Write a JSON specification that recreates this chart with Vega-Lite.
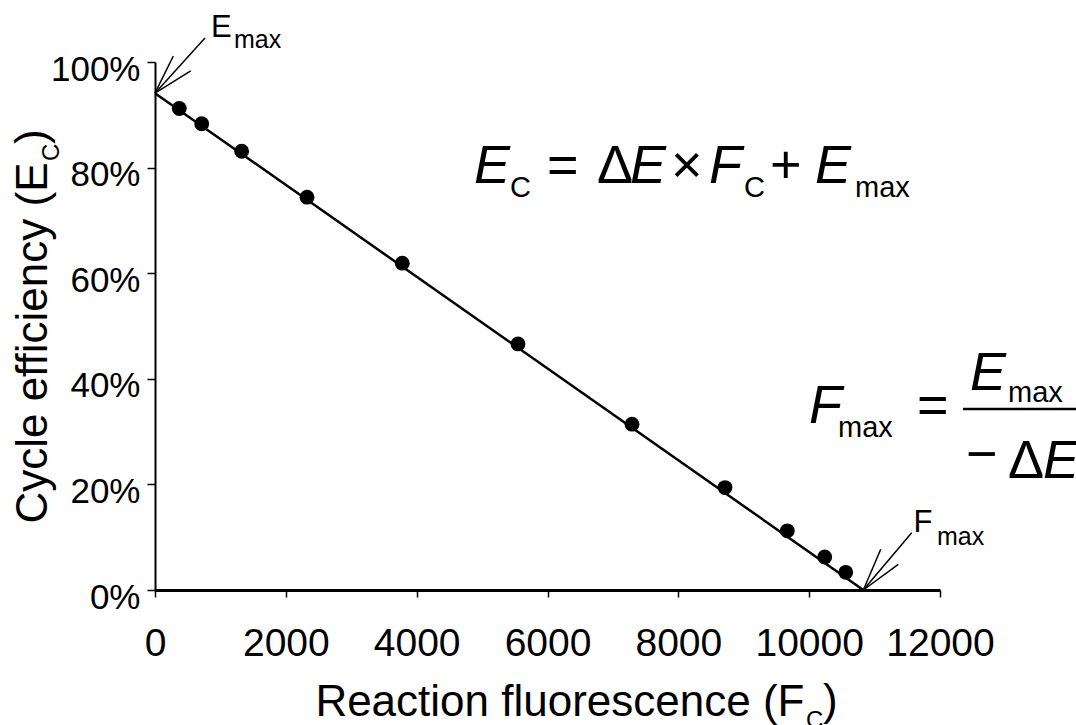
{
  "$schema": "https://vega.github.io/schema/vega-lite/v6.json",
  "width": 785,
  "height": 528,
  "autosize": "none",
  "padding": {"left": 155, "top": 62, "right": 136, "bottom": 135},
  "background": "white",
  "config": {"view": {"stroke": null}, "font": "Liberation Sans"},
  "datasets": {
    "obs": [
      {"Fc": 371, "Ec": 0.912},
      {"Fc": 714, "Ec": 0.883},
      {"Fc": 1325, "Ec": 0.831},
      {"Fc": 2324, "Ec": 0.744},
      {"Fc": 3780, "Ec": 0.619},
      {"Fc": 5549, "Ec": 0.466},
      {"Fc": 7292, "Ec": 0.314},
      {"Fc": 8713, "Ec": 0.194},
      {"Fc": 9666, "Ec": 0.112},
      {"Fc": 10238, "Ec": 0.0625},
      {"Fc": 10559, "Ec": 0.0335}
    ],
    "fit": [
      {"Fc": 0, "Ec": 0.941},
      {"Fc": 10828, "Ec": 0}
    ],
    "arrows": [
      {"Fc": 0, "Ec": 0.941, "Fc2": 764, "Ec2": 1.0455},
      {"Fc": 0, "Ec": 0.941, "Fc2": 280, "Ec2": 1.0114},
      {"Fc": 0, "Ec": 0.941, "Fc2": 546, "Ec2": 0.983},
      {"Fc": 10828, "Ec": 0, "Fc2": 11567, "Ec2": 0.1085},
      {"Fc": 10828, "Ec": 0, "Fc2": 11094, "Ec2": 0.0771},
      {"Fc": 10828, "Ec": 0, "Fc2": 11362, "Ec2": 0.0487}
    ],
    "fraction_bar": [
      {"Fc": 12352, "Ec": 0.3428, "Fc2": 14079, "Ec2": 0.3428}
    ],
    "math_italic": [
      {"Fc": 4877, "Ec": 0.7708, "label": "E"},
      {"Fc": 7261, "Ec": 0.7708, "label": "E"},
      {"Fc": 8469, "Ec": 0.7708, "label": "F"},
      {"Fc": 10089, "Ec": 0.7708, "label": "E"},
      {"Fc": 9998, "Ec": 0.3163, "label": "F"},
      {"Fc": 12459, "Ec": 0.3788, "label": "E"},
      {"Fc": 13575, "Ec": 0.2121, "label": "E"}
    ],
    "math_upright": [
      {"Fc": 5993, "Ec": 0.7708, "label": "="},
      {"Fc": 6757, "Ec": 0.7708, "label": "Δ"},
      {"Fc": 7888, "Ec": 0.7708, "label": "×"},
      {"Fc": 9402, "Ec": 0.7708, "label": "+"},
      {"Fc": 11649, "Ec": 0.3163, "label": "="},
      {"Fc": 12398, "Ec": 0.2235, "label": "−"},
      {"Fc": 13040, "Ec": 0.2121, "label": "Δ"}
    ],
    "math_sub": [
      {"Fc": 5427, "Ec": 0.7443, "label": "C"},
      {"Fc": 9004, "Ec": 0.7443, "label": "C"},
      {"Fc": 10701, "Ec": 0.7443, "label": "max"},
      {"Fc": 10441, "Ec": 0.2898, "label": "max"},
      {"Fc": 13040, "Ec": 0.3561, "label": "max"}
    ],
    "marker_main": [
      {"Fc": 856, "Ec": 1.0473, "label": "E"},
      {"Fc": 11595, "Ec": 0.1098, "label": "F"}
    ],
    "marker_sub": [
      {"Fc": 1208, "Ec": 1.0265, "label": "max"},
      {"Fc": 11954, "Ec": 0.0852, "label": "max"}
    ],
    "xtitle_sub": [
      {"Fc": 9952, "Ec": -0.2614, "label": "C"}
    ],
    "xtitle_close": [
      {"Fc": 10212, "Ec": -0.2367, "label": ")"}
    ],
    "ytitle_sub": [
      {"Fc": -1468, "Ec": 0.8125, "label": "C"}
    ],
    "ytitle_close": [
      {"Fc": -1666, "Ec": 0.8447, "label": ")"}
    ]
  },
  "encoding": {
    "x": {
      "field": "Fc",
      "type": "quantitative",
      "scale": {"domain": [0, 12000], "nice": false, "zero": false},
      "axis": {
        "values": [0, 2000, 4000, 6000, 8000, 10000, 12000],
        "format": "d",
        "grid": false,
        "domainColor": "black",
        "domainWidth": 3,
        "tickColor": "black",
        "tickWidth": 1.5,
        "tickSize": 7,
        "labelFont": "Liberation Sans",
        "labelFontSize": 39,
        "labelColor": "black",
        "labelBaseline": "alphabetic",
        "labelPadding": 58,
        "labelFlush": false,
        "labelOverlap": false,
        "title": "Reaction fluorescence (F",
        "titleFont": "Liberation Sans",
        "titleFontSize": 44,
        "titleFontWeight": "normal",
        "titleColor": "black",
        "titleAlign": "right",
        "titleBaseline": "alphabetic",
        "titleX": 649,
        "titleY": 125
      }
    },
    "y": {
      "field": "Ec",
      "type": "quantitative",
      "scale": {"domain": [0, 1], "nice": false, "zero": false},
      "axis": {
        "values": [0, 0.2, 0.4, 0.6, 0.8, 1],
        "format": ".0%",
        "grid": false,
        "domainColor": "black",
        "domainWidth": 2,
        "tickColor": "black",
        "tickWidth": 1.5,
        "tickSize": 8,
        "labelFont": "Liberation Sans",
        "labelFontSize": 35,
        "labelColor": "black",
        "labelAlign": "right",
        "labelBaseline": "alphabetic",
        "labelOffset": 18,
        "labelPadding": 7,
        "labelFlush": false,
        "labelOverlap": false,
        "title": "Cycle efficiency (E",
        "titleFont": "Liberation Sans",
        "titleFontSize": 44,
        "titleFontWeight": "normal",
        "titleColor": "black",
        "titleAngle": 270,
        "titleAlign": "right",
        "titleBaseline": "alphabetic",
        "titleX": -109,
        "titleY": 100
      }
    }
  },
  "layer": [
    {
      "data": {"name": "fit"},
      "mark": {"type": "line", "color": "black", "strokeWidth": 2.5}
    },
    {
      "data": {"name": "obs"},
      "mark": {"type": "circle", "color": "black", "opacity": 1, "size": 220}
    },
    {
      "data": {"name": "arrows"},
      "mark": {"type": "rule", "color": "black", "strokeWidth": 1.5},
      "encoding": {"x2": {"field": "Fc2"}, "y2": {"field": "Ec2"}}
    },
    {
      "data": {"name": "fraction_bar"},
      "mark": {"type": "rule", "color": "black", "strokeWidth": 2.5},
      "encoding": {"x2": {"field": "Fc2"}, "y2": {"field": "Ec2"}}
    },
    {
      "data": {"name": "math_italic"},
      "mark": {"type": "text", "align": "left", "baseline": "alphabetic", "font": "Liberation Sans", "fontStyle": "italic", "fontSize": 54, "color": "black"},
      "encoding": {"text": {"field": "label"}}
    },
    {
      "data": {"name": "math_upright"},
      "mark": {"type": "text", "align": "left", "baseline": "alphabetic", "font": "Liberation Sans", "fontSize": 54, "color": "black"},
      "encoding": {"text": {"field": "label"}}
    },
    {
      "data": {"name": "math_sub"},
      "mark": {"type": "text", "align": "left", "baseline": "alphabetic", "font": "Liberation Sans", "fontSize": 29, "color": "black"},
      "encoding": {"text": {"field": "label"}}
    },
    {
      "data": {"name": "marker_main"},
      "mark": {"type": "text", "align": "left", "baseline": "alphabetic", "font": "Liberation Sans", "fontSize": 31, "color": "black"},
      "encoding": {"text": {"field": "label"}}
    },
    {
      "data": {"name": "marker_sub"},
      "mark": {"type": "text", "align": "left", "baseline": "alphabetic", "font": "Liberation Sans", "fontSize": 25, "color": "black"},
      "encoding": {"text": {"field": "label"}}
    },
    {
      "data": {"name": "xtitle_sub"},
      "mark": {"type": "text", "align": "left", "baseline": "alphabetic", "font": "Liberation Sans", "fontSize": 24, "color": "black"},
      "encoding": {"text": {"field": "label"}}
    },
    {
      "data": {"name": "xtitle_close"},
      "mark": {"type": "text", "align": "left", "baseline": "alphabetic", "font": "Liberation Sans", "fontSize": 44, "color": "black"},
      "encoding": {"text": {"field": "label"}}
    },
    {
      "data": {"name": "ytitle_sub"},
      "mark": {"type": "text", "align": "left", "baseline": "alphabetic", "angle": 270, "font": "Liberation Sans", "fontSize": 24, "color": "black"},
      "encoding": {"text": {"field": "label"}}
    },
    {
      "data": {"name": "ytitle_close"},
      "mark": {"type": "text", "align": "left", "baseline": "alphabetic", "angle": 270, "font": "Liberation Sans", "fontSize": 44, "color": "black"},
      "encoding": {"text": {"field": "label"}}
    }
  ]
}
